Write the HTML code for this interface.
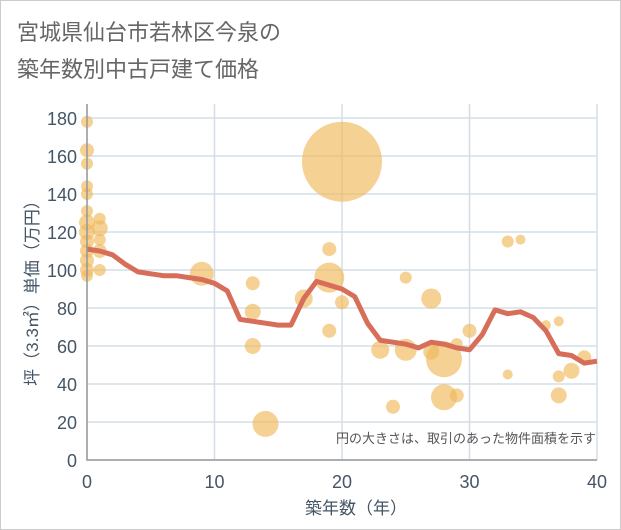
<!DOCTYPE html>
<html><head><meta charset="utf-8"><style>
body{margin:0;background:#fff}
svg{display:block;font-family:"Liberation Sans","Noto Sans CJK JP",sans-serif}
</style></head><body>
<svg id="chart" width="621" height="530">
<rect x="0.5" y="0.5" width="620" height="529" fill="#fff" stroke="#ccc"/>
<text x="17" y="40" font-size="22" fill="#666">宮城県仙台市若林区今泉の</text>
<text x="17" y="77" font-size="22" fill="#666">築年数別中古戸建て価格</text>
<g id="grid"></g>
<g id="bubbles"></g>
<g id="line"></g>
<g id="axes"></g>
<text x="596" y="443" font-size="13" fill="#555" text-anchor="end">円の大きさは、取引のあった物件面積を示す</text>
<text x="356" y="514" font-size="17" fill="#445566" text-anchor="middle">築年数（年）</text>
<text transform="translate(38,289) rotate(-90)" font-size="17" fill="#445566" text-anchor="middle">坪（3.3㎡）単価（万円）</text>
</svg>
<script>
const xTicks=[0,10,20,30,40];
const yTicks=[0,20,40,60,80,100,120,140,160,180];
const lineYears=[0,1,2,3,4,5,6,7,8,9,10,11,12,13,14,15,16,17,18,19,20,21,22,23,24,25,26,27,28,29,30,31,32,33,34,35,36,37,38,39,40];
const lineValues=[111,110,108,103,99,98,97,97,96,95,93,89,74,73,72,71,71,85,94,92,90,86,72,63,62,61,59,62,61,59,58,66,79,77,78,75,68,56,55,51,52];
const bubbleX=[0,0,0,0,0,0,0,0,0,0,0,0,0,1,1,1,1,1,9,13,13,13,14,17,19,19,19,20,20,23,24,25,25,27,27,28,28,29,29,30,33,33,34,36,37,37,37,38,39];
const bubbleY=[178,163,156,144,140,131,125,120,115,110,105,100,97,127,122,116,110,100,98,93,78,60,19,85,111,96,68,157,83,58,28,96,58,85,57,53,33,34,61,68,115,45,116,71,73,44,34,47,54];
const bubbleSize=[6,7,6,6,6,6,8,8,7,7,7,7,6,6,8,6,7,6,12,7,8,8,13,9,7,15,7,40,7,9,7,6,11,10,8,18,13,7,6,7,6,5,5,5,5,6,8,8,7];
const NS="http://www.w3.org/2000/svg";
const x0=87,x1=597,y0=460,y1=118;
const sx=v=>x0+(v-0)/40*(x1-x0);
const sy=v=>y0-v/180*(y0-y1);
const grid=document.getElementById('grid'),axes=document.getElementById('axes');
function mk(t,a,p){const e=document.createElementNS(NS,t);for(const k in a)e.setAttribute(k,a[k]);p.appendChild(e);return e;}
for(const t of yTicks){
 const g=mk('line',{x1:x0,x2:x1,y1:sy(t),y2:sy(t),stroke:'#d3dde9','stroke-width':1.5},grid);
 
 
 const l=mk('text',{x:x0-10,y:sy(t)+7,'font-size':18,fill:'#445566','text-anchor':'end'},axes);
 l.textContent=t;
 
 
}
for(const t of xTicks){
 const g=mk('line',{x1:sx(t),x2:sx(t),y1:y1-14,y2:y0,stroke:'#d3dde9','stroke-width':1.5},grid);
 
 
 const l=mk('text',{x:sx(t),y:y0+28,'font-size':18,fill:'#445566','text-anchor':'middle'},axes);
 l.textContent=t;
 
 
}
const ax=mk('path',{d:`M${x0},${y1-14}V${y0}H${x1}`,fill:'none',stroke:'#999','stroke-width':1.5},axes);


const bg=document.getElementById('bubbles');
for(let i=0;i<bubbleX.length;i++){
 const c=mk('circle',{cx:sx(bubbleX[i]),cy:sy(bubbleY[i]),r:bubbleSize[i],fill:'#f0b85a','fill-opacity':0.65},bg);
 
 
}
const pts=lineYears.map((y,i)=>sx(y)+','+sy(lineValues[i])).join(' ');
const pl=mk('polyline',{points:pts,fill:'none',stroke:'#d76e5a','stroke-width':5,'stroke-linejoin':'round'},document.getElementById('line'));


</script>
</body></html>
